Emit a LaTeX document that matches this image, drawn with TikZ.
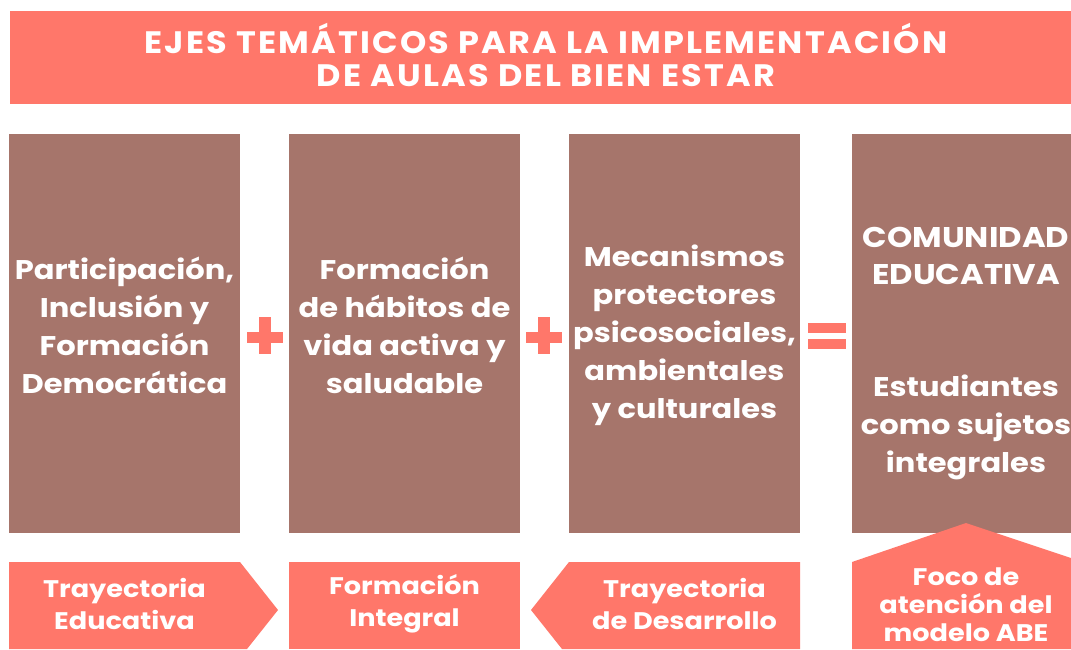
\documentclass[tikz,border=0pt]{standalone}
\usepackage{fontspec}
\setmainfont{Poppins}
\newfontfamily\titlefont{Poppins}[LetterSpace=7,FakeStretch=1.08]
\newfontfamily\widefont{Poppins}[FakeStretch=1.13]
\definecolor{salmon}{HTML}{FF776A}
\definecolor{brownbox}{HTML}{A6756B}
\begin{document}
\begin{tikzpicture}[x=1pt,y=-1pt,
  bigbox/.style={fill=brownbox,draw=none,minimum width=231pt,minimum height=399pt,inner sep=0pt},
  bigtext/.style={text=white,font=\widefont\fontsize{27}{38}\selectfont\bfseries,align=center,inner sep=0pt},
  smalltext/.style={text=white,font=\widefont\fontsize{24}{32}\selectfont\bfseries,align=center,inner sep=0pt},
  arrowshape/.style={fill=salmon,draw=none},
  sign/.style={fill=salmon,draw=none,inner sep=0pt}]
\useasboundingbox (0,0) rectangle (1071,649);
\fill[white] (0,0) rectangle (1071,649);
% title
\node[fill=salmon,minimum width=1061pt,minimum height=93pt,inner sep=0pt] (title) at (540.5,57.5) {};
\node[text=white,align=center,inner sep=0pt,font=\titlefont\fontsize{31}{33}\selectfont\bfseries] (titletext) at (546,55) {EJES TEMÁTICOS PARA LA IMPLEMENTACIÓN\\DE AULAS DEL BIEN ESTAR};
% big boxes
\node[bigbox] (b1) at (124.5,333.5) {};
\node[bigbox] (b2) at (404.5,333.5) {};
\node[bigbox] (b3) at (684.5,333.5) {};
\node[bigbox,minimum width=219pt] (b4) at (961.5,333.5) {};
\node[bigtext] (t1) at (124.5,325) {Participación,\\Inclusión y\\Formación\\Democrática};
\node[bigtext] (t2) at (404.5,325) {Formación\\de hábitos de\\vida activa y\\saludable};
\node[bigtext] (t3) at (684.5,335) {Mecanismos\\protectores\\psicosociales,\\ambientales\\y culturales};
\node[bigtext,font=\widefont\fontsize{28.5}{37}\selectfont\bfseries] (t4a) at (966,256) {COMUNIDAD\\EDUCATIVA};
\node[bigtext] (t4b) at (966,427) {Estudiantes\\como sujetos\\integrales};
% plus and equals signs
\node[sign,minimum width=36pt,minimum height=11pt] (p1h) at (265,337) {};
\node[sign,minimum width=12pt,minimum height=37pt] (p1v) at (265,335.5) {};
\node[sign,minimum width=36pt,minimum height=11pt] (p2h) at (544,337) {};
\node[sign,minimum width=12pt,minimum height=37pt] (p2v) at (544,335.5) {};
\node[sign,minimum width=38pt,minimum height=10pt] (e1) at (827,328) {};
\node[sign,minimum width=38pt,minimum height=10pt] (e2) at (827,344) {};
% bottom arrows
\fill[arrowshape] (9,562) -- (240,562) -- (278,610) -- (247,649) -- (9,649) -- cycle;
\fill[arrowshape] (289,562) -- (520,562) -- (520,649) -- (289,649) -- cycle;
\fill[arrowshape] (800,562) -- (569,562) -- (531,610) -- (562,649) -- (800,649) -- cycle;
\fill[arrowshape] (852,562) -- (966,523) -- (1071,558) -- (1071,649) -- (852,649) -- cycle;
\node[smalltext] (a1) at (124.5,604) {Trayectoria\\Educativa};
\node[smalltext] (a2) at (404.5,604) {Formación\\Integral};
\node[smalltext] (a3) at (684.5,604) {Trayectoria\\de Desarrollo};
\node[smalltext,font=\widefont\fontsize{24}{28}\selectfont\bfseries] (a4) at (966,605) {Foco de\\atención del\\modelo ABE};
\end{tikzpicture}
\end{document}
